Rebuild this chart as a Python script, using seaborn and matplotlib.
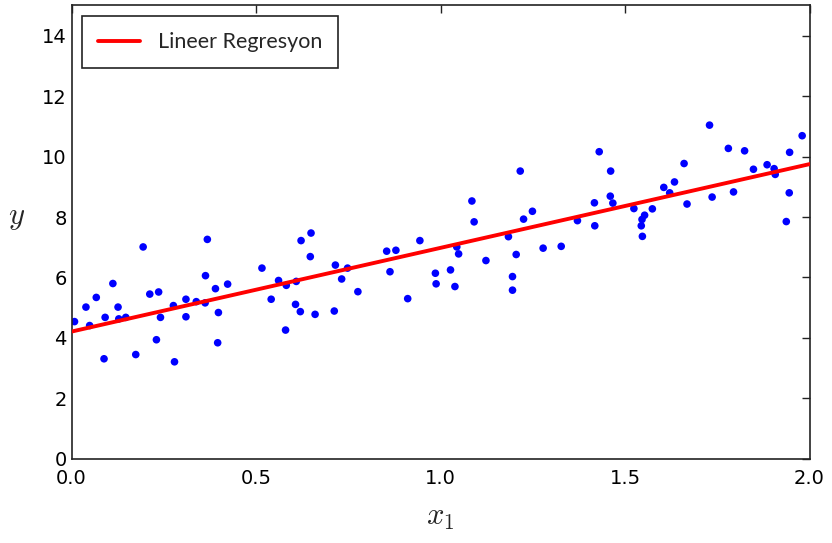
import matplotlib
matplotlib.use("Agg")
import matplotlib.pyplot as plt
import pandas as pd
import seaborn as sns

# data
x_vals = [0.008, 0.039, 0.049, 0.067, 0.088, 0.091, 0.112, 0.126, 0.128, 0.147,
          0.174, 0.194, 0.212, 0.230, 0.236, 0.241, 0.276, 0.279, 0.310, 0.310,
          0.338, 0.362, 0.368, 0.363, 0.390, 0.398, 0.396, 0.423, 0.516, 0.541,
          0.561, 0.582, 0.580, 0.609, 0.607, 0.620, 0.622, 0.649, 0.647, 0.660,
          0.712, 0.715, 0.732, 0.748, 0.776, 0.854, 0.879, 0.863, 0.911, 0.944,
          0.986, 0.988, 1.027, 1.039, 1.044, 1.049, 1.085, 1.091, 1.123, 1.184,
          1.195, 1.195, 1.205, 1.216, 1.225, 1.249, 1.278, 1.327, 1.371, 1.417,
          1.418, 1.430, 1.461, 1.460, 1.467, 1.524, 1.546, 1.553, 1.544, 1.547,
          1.574, 1.605, 1.621, 1.634, 1.660, 1.668, 1.729, 1.736, 1.780, 1.794,
          1.824, 1.848, 1.885, 1.904, 1.907, 1.937, 1.945, 1.946, 1.980]
y_vals = [4.54, 5.02, 4.41, 5.34, 3.31, 4.68, 5.80, 5.02, 4.63, 4.68,
          3.45, 7.01, 5.45, 3.94, 5.52, 4.68, 5.07, 3.21, 5.28, 4.70,
          5.20, 5.16, 7.26, 6.06, 5.63, 4.84, 3.84, 5.78, 6.31, 5.28,
          5.90, 5.74, 4.26, 5.87, 5.11, 4.87, 7.22, 7.47, 6.69, 4.78,
          4.89, 6.41, 5.95, 6.31, 5.53, 6.87, 6.90, 6.19, 5.30, 7.22,
          6.14, 5.79, 6.25, 5.70, 7.01, 6.78, 8.53, 7.84, 6.56, 7.35,
          6.03, 5.58, 6.76, 9.52, 7.93, 8.19, 6.97, 7.03, 7.88, 8.47,
          7.71, 10.16, 9.52, 8.69, 8.46, 8.28, 7.92, 8.06, 7.71, 7.36,
          8.27, 8.98, 8.80, 9.16, 9.77, 8.43, 11.04, 8.66, 10.27, 8.83,
          10.19, 9.58, 9.73, 9.60, 9.41, 7.85, 8.80, 10.14, 10.69]

# regression line end points
line_x = [0.0, 2.0]
line_y = [4.21, 9.75]

x_ticks = [0.0, 0.5, 1.0, 1.5, 2.0]
y_ticks = [0, 2, 4, 6, 8, 10, 12, 14]

df = pd.DataFrame({"x1": x_vals, "y": y_vals})
df_line = pd.DataFrame({"x1": line_x, "y": line_y})

sns.set_style("white")
plt.rcParams["font.family"] = ["DejaVu Sans"]
plt.rcParams["mathtext.fontset"] = "cm"

fig, ax = plt.subplots(figsize=(8.32, 5.43), dpi=100)
fig.subplots_adjust(left=0.086, right=0.973, bottom=0.155, top=0.99)

sns.lineplot(data=df_line, x="x1", y="y", color="red", linewidth=2.8,
             label="Lineer Regresyon", ax=ax, zorder=3)
sns.scatterplot(data=df, x="x1", y="y", color="blue", s=30, edgecolor="none",
                ax=ax, zorder=2)

ax.set_xlim(0, 2)
ax.set_ylim(0, 15)
ax.set_xticks(x_ticks)
ax.set_xticklabels([f"{t:.1f}" for t in x_ticks])
ax.set_yticks(y_ticks)
ax.tick_params(direction="in", length=6, width=1, labelsize=14,
               top=True, right=True, colors="#222222", labelcolor="black")
ax.tick_params(axis="x", pad=7)

for s in ax.spines.values():
    s.set_color("#222222")
    s.set_linewidth(1.2)

ax.set_xlabel("$x_1$", fontsize=22, labelpad=11)
ax.set_ylabel("$y$", fontsize=22, rotation=0, labelpad=18)

leg = ax.legend(loc="upper left", fancybox=False, edgecolor="#222222",
                framealpha=1, handlelength=1.95, borderpad=0.75,
                prop={"family": "Lato", "size": 15.5})
leg.get_frame().set_linewidth(1.2)

fig.savefig("out.png", dpi=100)
